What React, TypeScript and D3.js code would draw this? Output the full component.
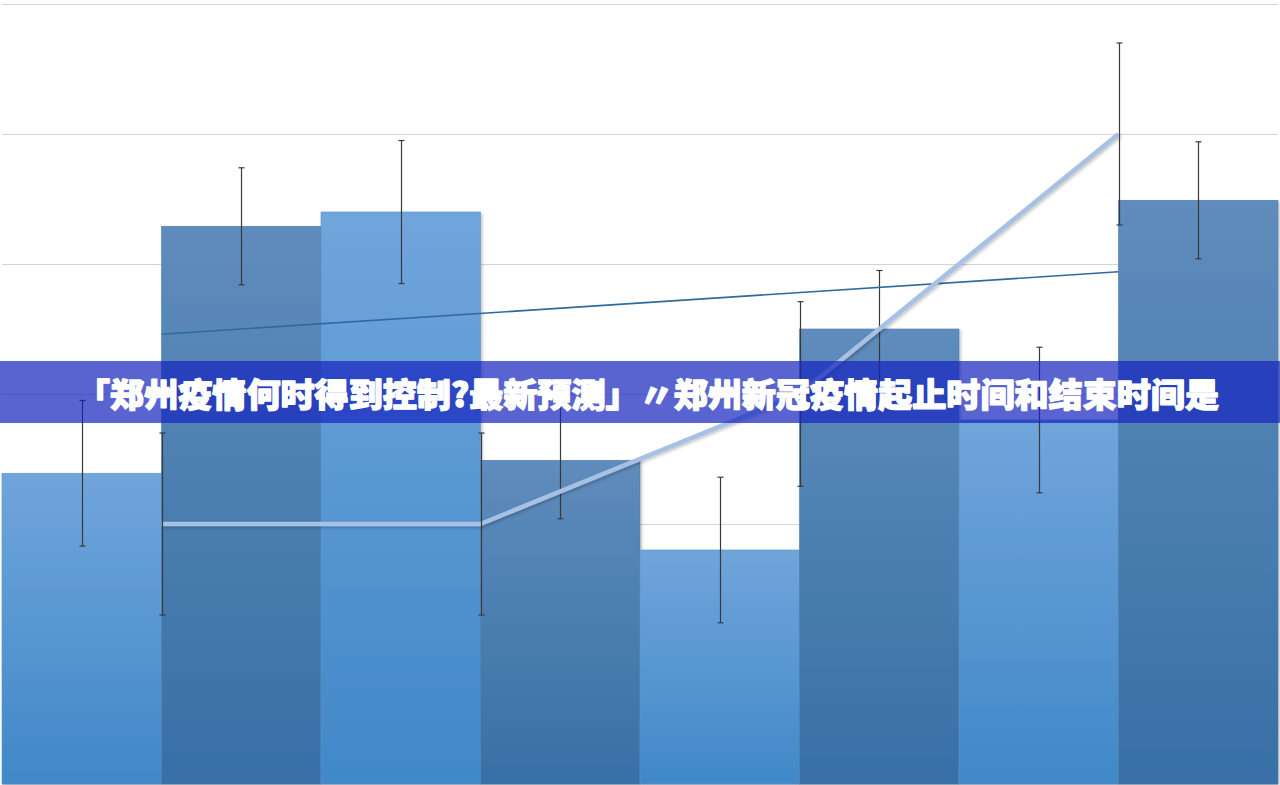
import * as d3 from 'd3';
import { useEffect, useRef } from 'react';

// bar series (one bar per category, alternating fill)
const categories = ['1', '2', '3', '4', '5', '6', '7', '8'];
const barValues = [2.39, 4.29, 4.4, 2.49, 1.8, 3.5, 2.8, 4.49];
const barErrors = [0.56, 0.45, 0.55, 0.45, 0.56, 0.45, 0.56, 0.45];

// thick line series, placed on category boundaries
const lineX = [1, 3, 5, 7];
const lineValues = [2, 2, 3, 5];
const lineErrors = [0.7, 0.7, 0.71, 0.7];

// linear trendline end points
const trendX = [1, 7];
const trendValues = [3.46, 3.94];

const yTicks = [0, 1, 2, 3, 4, 5, 6];

const title = '「郑州疫情何时得到控制?最新预测」〃郑州新冠疫情起止时间和结束时间是';

const W = 1280;
const H = 785;

export default function App() {
  const ref = useRef<SVGSVGElement | null>(null);

  useEffect(() => {
    const svg = d3.select(ref.current);
    svg.selectAll('*').remove();

    const left = 2;
    const right = 1278;
    const top = 4;
    const bottom = 784;

    const x = d3.scaleBand().domain(categories).range([left, right]).padding(0);
    const xl = d3.scaleLinear().domain([0, categories.length]).range([left, right]);
    const y = d3.scaleLinear().domain([0, 6]).range([bottom, top]);

    const defs = svg.append('defs');
    const grad = (id, c0, c1) => {
      const g = defs.append('linearGradient').attr('id', id).attr('x1', 0).attr('y1', 0).attr('x2', 0).attr('y2', 1);
      g.append('stop').attr('offset', '0%').attr('stop-color', c0);
      g.append('stop').attr('offset', '100%').attr('stop-color', c1);
    };
    grad('gLight', '#70a5db', '#4088c8');
    grad('gDark', '#5f8cbc', '#3770a5');

    const shadow = defs.append('filter').attr('id', 'shadow').attr('x', '-10%').attr('y', '-10%').attr('width', '130%').attr('height', '130%');
    shadow.append('feDropShadow').attr('dx', 1.5).attr('dy', 1.5).attr('stdDeviation', 1.5).attr('flood-color', '#000').attr('flood-opacity', 0.25);

    // gridlines
    svg
      .append('g')
      .selectAll('line')
      .data(yTicks)
      .join('line')
      .attr('x1', left)
      .attr('x2', right)
      .attr('y1', (d) => Math.round(y(d)) + 0.5)
      .attr('y2', (d) => Math.round(y(d)) + 0.5)
      .attr('stroke', '#d4d4d4')
      .attr('stroke-width', 1);

    // bars
    svg
      .append('g')
      .attr('filter', 'url(#shadow)')
      .selectAll('rect')
      .data(barValues)
      .join('rect')
      .attr('x', (_, i) => x(categories[i]))
      .attr('y', (d) => y(d))
      .attr('width', x.bandwidth())
      .attr('height', (d) => y(0) - y(d))
      .attr('fill', (_, i) => (i % 2 === 0 ? 'url(#gLight)' : 'url(#gDark)'))
      .attr('stroke', (_, i) => (i % 2 === 0 ? '#5b95cf' : '#4f7daf'))
      .attr('stroke-width', 0.6);

    const cap = 3;
    const errorBars = (g, pts) => {
      const e = g.append('g').attr('stroke', '#3a3a3a').attr('stroke-width', 1.2);
      pts.forEach(([cx, v, err]) => {
        const px = Math.round(cx) + 0.5;
        e.append('line').attr('x1', px).attr('x2', px).attr('y1', y(v + err)).attr('y2', y(v - err));
        e.append('line').attr('x1', px - cap).attr('x2', px + cap).attr('y1', y(v + err)).attr('y2', y(v + err));
        e.append('line').attr('x1', px - cap).attr('x2', px + cap).attr('y1', y(v - err)).attr('y2', y(v - err));
      });
    };

    errorBars(
      svg,
      barValues.map((v, i) => [x(categories[i]) + x.bandwidth() / 2, v, barErrors[i]])
    );

    // trendline
    svg
      .append('path')
      .datum(trendX.map((t, i) => [xl(t), y(trendValues[i])]))
      .attr('d', d3.line())
      .attr('fill', 'none')
      .attr('stroke', '#2f6a9f')
      .attr('stroke-width', 1.6);

    // thick line with shadow
    const lineData = lineX.map((t, i) => [xl(t), y(lineValues[i])]);
    svg
      .append('path')
      .datum(lineData)
      .attr('d', d3.line())
      .attr('fill', 'none')
      .attr('stroke', '#a6c1e4')
      .attr('stroke-width', 4.5)
      .attr('stroke-linejoin', 'round')
      .attr('filter', 'url(#shadow)');

    errorBars(
      svg,
      lineX.map((t, i) => [xl(t), lineValues[i], lineErrors[i]])
    );

    // title banner
    svg
      .append('rect')
      .attr('x', 0)
      .attr('y', 361)
      .attr('width', W)
      .attr('height', 62)
      .attr('fill', 'rgb(22,36,190)')
      .attr('fill-opacity', 0.71);

    svg
      .append('text')
      .attr('x', 76)
      .attr('y', 407)
      .attr('font-family', '"Noto Sans CJK SC", "Noto Sans", sans-serif')
      .attr('font-weight', 900)
      .attr('font-size', 33)
      .attr('fill', '#ffffff')
      .attr('stroke', '#ffffff')
      .attr('stroke-width', 1.3)
      .attr('stroke-linejoin', 'round')
      .attr('textLength', 1143)
      .attr('lengthAdjust', 'spacingAndGlyphs')
      .text(title);
  }, []);

  return (
    <div style={{ position: 'fixed', left: 0, top: 0, width: W, height: H, background: '#fff' }}>
      <svg ref={ref} width={W} height={H} style={{ display: 'block' }} />
    </div>
  );
}
